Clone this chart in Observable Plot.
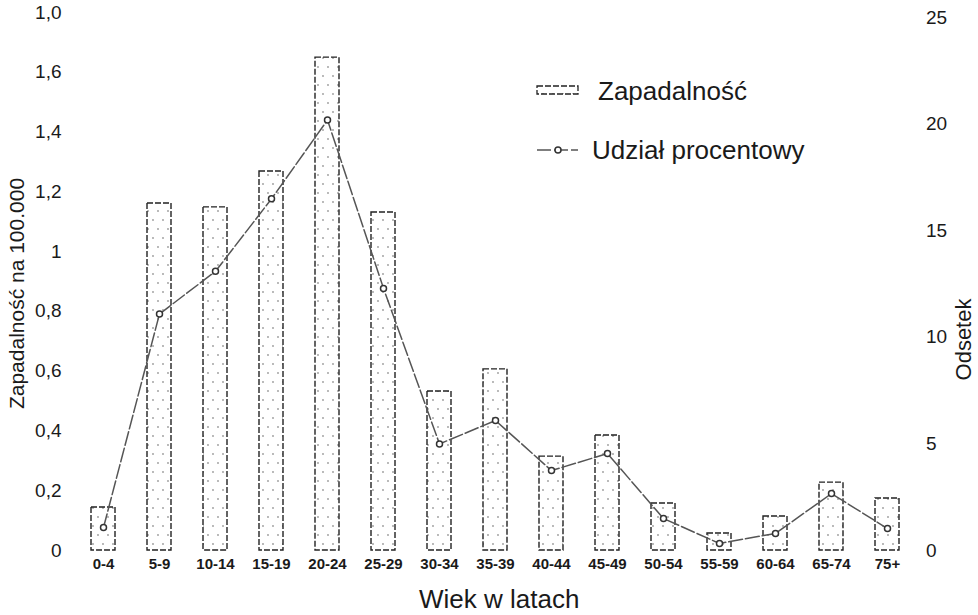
<!DOCTYPE html>
<html>
<head>
<meta charset="utf-8">
<script src="https://cdn.jsdelivr.net/npm/d3@7"></script>
<script src="https://cdn.jsdelivr.net/npm/@observablehq/plot@0.6"></script>
<style>
  html, body { margin: 0; padding: 0; background: #fff; }
  #wrap { position: relative; width: 978px; height: 615px; font-family: "Liberation Sans", Arial, sans-serif; color: #1a1a1a; }
  #legend { position: absolute; left: 0; top: 0; pointer-events: none; }
</style>
</head>
<body>
<svg width="0" height="0" style="position:absolute">
  <defs>
    <pattern id="stip" width="10" height="18" patternUnits="userSpaceOnUse">
      <rect width="10" height="18" fill="#fff"/>
      <circle cx="3" cy="4" r="0.9" fill="#9a9a9a"/>
      <circle cx="8" cy="13" r="0.9" fill="#9a9a9a"/>
    </pattern>
  </defs>
</svg>
<div id="wrap"></div>
<script>
// ---- data ----
const groups = ["0-4","5-9","10-14","15-19","20-24","25-29","30-34","35-39","40-44","45-49","50-54","55-59","60-64","65-74","75+"];
const incidence = [0.144,1.161,1.148,1.268,1.649,1.131,0.532,0.606,0.314,0.385,0.157,0.057,0.114,0.227,0.174];
const share = [1.08,11.1,13.1,16.5,20.2,12.3,5.0,6.1,3.75,4.55,1.5,0.33,0.8,2.67,1.03];
const leftTicks = [0,0.2,0.4,0.6,0.8,1,1.2,1.4,1.6,1.8];
const leftLabels = ["0","0,2","0,4","0,6","0,8","1","1,2","1,4","1,6","1,0"];
const rightTicks = [0,5,10,15,20,25];
const rightLabels = ["0","5","10","15","20","25"];
const xTitle = "Wiek w latach";
const yLeftTitle = "Zapadalność na 100.000";
const yRightTitle = "Odsetek";
const legendLabels = ["Zapadalność","Udział procentowy"];

// right axis (percent) expressed in left-axis units
const k = 0.0713;
const rows = groups.map((g, i) => ({group: g, inc: incidence[i], pct: share[i] * k}));
const leftMap = new Map(leftTicks.map((t, i) => [t, leftLabels[i]]));
const rightVals = rightTicks.map(v => v * k);
const rightMap = new Map(rightVals.map((t, i) => [t, rightLabels[i]]));

const font = '"Liberation Sans", Arial, sans-serif';

const chart = Plot.plot({
  width: 978,
  height: 615,
  marginLeft: 55,
  marginRight: 43.6,
  marginTop: 12,
  marginBottom: 65,
  style: {fontFamily: font, background: "#fff", color: "#1a1a1a", overflow: "visible"},
  x: {domain: groups, padding: 0.575, align: 0.5},
  y: {domain: [0, 1.8]},
  marks: [
    Plot.barY(rows, {x: "group", y: "inc", fill: "url(#stip)", stroke: "#222", strokeWidth: 1.4, strokeDasharray: "6,2"}),
    Plot.line(rows, {x: "group", y: "pct", stroke: "#555", strokeWidth: 1.5, strokeDasharray: "14,3"}),
    Plot.dot(rows, {x: "group", y: "pct", r: 3, fill: "#fff", stroke: "#333", strokeWidth: 1.5}),
    Plot.axisX({tickSize: 0, tickPadding: 8, fontSize: 15, fontWeight: "bold", label: null}),
    Plot.axisY({anchor: "left", ticks: leftTicks, tickFormat: d => leftMap.get(d), tickSize: 0, tickPadding: 0, dx: 6, fontSize: 19, label: null}),
    Plot.axisY({anchor: "right", ticks: rightVals, tickFormat: d => rightMap.get(d), tickSize: 0, tickPadding: 0, dx: -9, fontSize: 19, label: null}),
    Plot.text([xTitle], {frameAnchor: "bottom", dy: 49, dx: 4, fontSize: 26, lineAnchor: "middle", textAnchor: "middle", fill: "#1a1a1a"}),
    Plot.text([yLeftTitle], {frameAnchor: "left", rotate: -90, dx: -38, dy: 12, fontSize: 21, lineAnchor: "middle", textAnchor: "middle", fill: "#1a1a1a"}),
    Plot.text([yRightTitle], {frameAnchor: "right", rotate: -90, dx: 29, dy: 58, fontSize: 22, lineAnchor: "middle", textAnchor: "middle", fill: "#1a1a1a"})
  ]
});
const wrap = document.getElementById("wrap");
wrap.appendChild(chart);

// legend overlay
const ns = "http://www.w3.org/2000/svg";
const lg = document.createElementNS(ns, "svg");
lg.setAttribute("id", "legend");
lg.setAttribute("width", 978);
lg.setAttribute("height", 615);
lg.innerHTML = `
  <rect x="537" y="86" width="41" height="8" fill="url(#stip)" stroke="#222" stroke-width="1.3" stroke-dasharray="6,2"/>
  <text x="598" y="100" font-size="26" font-family='${font}' fill="#1a1a1a">${legendLabels[0]}</text>
  <line x1="537" y1="150" x2="578" y2="150" stroke="#555" stroke-width="1.5" stroke-dasharray="14,3"/>
  <circle cx="558" cy="150" r="3" fill="#fff" stroke="#333" stroke-width="1.5"/>
  <text x="592" y="159" font-size="26" font-family='${font}' fill="#1a1a1a">${legendLabels[1]}</text>
`;
wrap.appendChild(lg);
</script>
</body>
</html>
